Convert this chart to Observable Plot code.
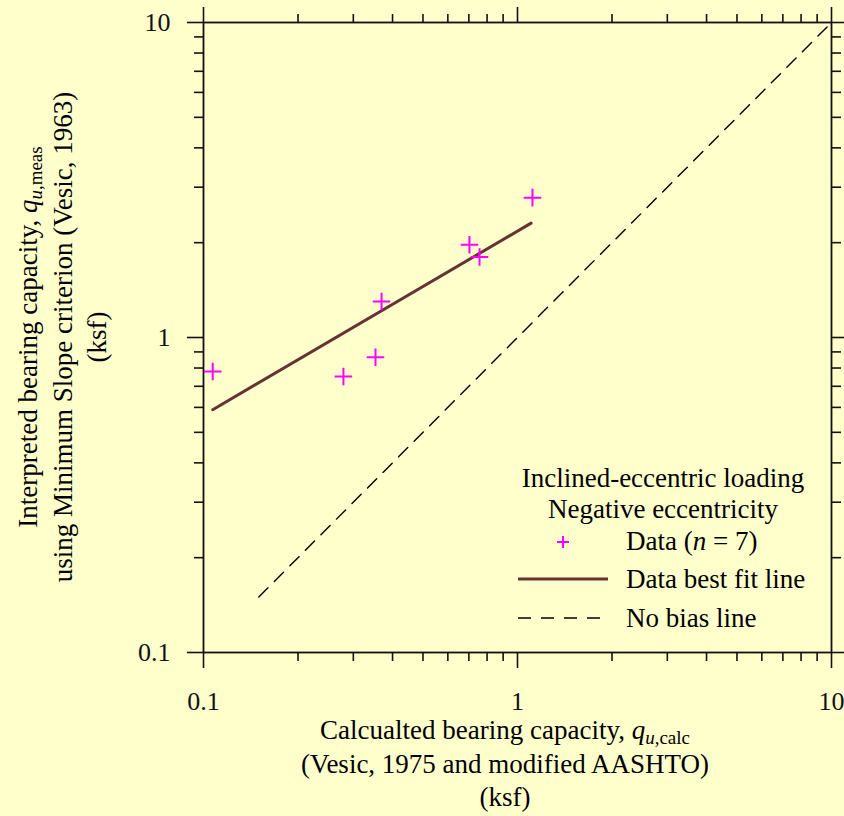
<!DOCTYPE html>
<html>
<head>
<meta charset="utf-8">
<script src="https://cdn.jsdelivr.net/npm/d3@7"></script>
<script src="https://cdn.jsdelivr.net/npm/@observablehq/plot@0.6"></script>
<style>
  html, body { margin: 0; padding: 0; background: #ffffcc; }
  #chart { width: 844px; height: 816px; }
</style>
</head>
<body>
<div id="chart"></div>
<script>
// ---- data ----
const dataX = [0.107, 0.279, 0.353, 0.369, 0.703, 0.757, 1.116];
const dataY = [0.78, 0.752, 0.865, 1.30, 1.97, 1.80, 2.78];
const fitX = [0.107, 1.105];
const fitY = [0.590, 2.307];
const biasX = [0.15, 10];
const biasY = [0.15, 10];
const majorTicks = [0.1, 1, 10];
const majorLabels = ["0.1", "1", "10"];
const minorTicks = [0.2, 0.3, 0.4, 0.5, 0.6, 0.7, 0.8, 0.9, 2, 3, 4, 5, 6, 7, 8, 9];

const points = dataX.map((x, i) => ({x, y: dataY[i]}));
const fit = fitX.map((x, i) => ({x, y: fitY[i]}));
const bias = biasX.map((x, i) => ({x, y: biasY[i]}));
const fmt = d => majorLabels[majorTicks.indexOf(d)] ?? "";
const blank = () => "";

const ink = "#111";
const axisCommon = {color: ink, strokeWidth: 1.6, label: null, fontSize: 26};

const plot = Plot.plot({
  width: 844,
  height: 816,
  marginLeft: 203,
  marginRight: 13,
  marginTop: 22,
  marginBottom: 164,
  style: {background: "#ffffcc", fontFamily: "'Liberation Serif', 'Times New Roman', serif", fontSize: "27px", color: ink},
  x: {type: "log", domain: [0.1, 10]},
  y: {type: "log", domain: [0.1, 10]},
  marks: [
    Plot.axisX({...axisCommon, anchor: "bottom", ticks: majorTicks, tickSize: 16, tickPadding: 23, tickFormat: fmt}),
    Plot.axisX({...axisCommon, anchor: "bottom", ticks: minorTicks, tickSize: 9, tickFormat: blank}),
    Plot.axisX({...axisCommon, anchor: "top", ticks: majorTicks, tickSize: 16, tickFormat: blank}),
    Plot.axisX({...axisCommon, anchor: "top", ticks: minorTicks, tickSize: 9, tickFormat: blank}),
    Plot.axisY({...axisCommon, anchor: "left", ticks: majorTicks, tickSize: 16, tickPadding: 17, tickFormat: fmt}),
    Plot.axisY({...axisCommon, anchor: "left", ticks: minorTicks, tickSize: 9, tickFormat: blank}),
    Plot.axisY({...axisCommon, anchor: "right", ticks: majorTicks, tickSize: 16, tickFormat: blank}),
    Plot.axisY({...axisCommon, anchor: "right", ticks: minorTicks, tickSize: 9, tickFormat: blank}),
    Plot.frame({stroke: ink, strokeWidth: 1.8}),
    Plot.line(bias, {x: "x", y: "y", stroke: "#000", strokeWidth: 1.4, strokeDasharray: "13,9"}),
    Plot.line(fit, {x: "x", y: "y", stroke: "#663333", strokeWidth: 3}),
    Plot.dot(points, {x: "x", y: "y", symbol: "plus", r: 5.7, stroke: "#ff00ff", strokeWidth: 2})
  ]
});
document.getElementById("chart").appendChild(plot);

// ---- titles and legend (text) ----
const svg = d3.select(plot);
const FS = 27, SUB = 19;
function rich(g, parts) {
  parts.forEach(p => {
    const t = g.append("tspan").text(p.t);
    if (p.i) t.attr("font-style", "italic");
    if (p.s) t.attr("font-size", SUB);
    if (p.dy) t.attr("dy", p.dy);
  });
}
const txt = svg.append("g").attr("fill", "#000").attr("font-size", FS)
  .attr("font-family", "'Liberation Serif', 'Times New Roman', serif");

// x axis title
const xt1 = txt.append("text").attr("x", 505).attr("y", 739).attr("text-anchor", "middle");
rich(xt1, [{t: "Calcualted bearing capacity, "}, {t: "q", i: 1}, {t: "u", i: 1, s: 1, dy: 5}, {t: ",calc", s: 1}]);
txt.append("text").attr("x", 505).attr("y", 773).attr("text-anchor", "middle").text("(Vesic, 1975 and modified AASHTO)");
txt.append("text").attr("x", 505).attr("y", 806).attr("text-anchor", "middle").text("(ksf)");

// y axis title
const yg = txt.append("g").attr("transform", "translate(0,337) rotate(-90)");
const yt1 = yg.append("text").attr("x", 0).attr("y", 37).attr("text-anchor", "middle");
rich(yt1, [{t: "Interpreted bearing capacity, "}, {t: "q", i: 1}, {t: "u", i: 1, s: 1, dy: 5}, {t: ",meas", s: 1}]);
yg.append("text").attr("x", 0).attr("y", 72).attr("text-anchor", "middle").text("using Minimum Slope criterion (Vesic, 1963)");
yg.append("text").attr("x", 0).attr("y", 106).attr("text-anchor", "middle").text("(ksf)");

// legend
txt.append("text").attr("x", 663).attr("y", 487).attr("text-anchor", "middle").text("Inclined-eccentric loading");
txt.append("text").attr("x", 663).attr("y", 518).attr("text-anchor", "middle").text("Negative eccentricity");
const l1 = txt.append("text").attr("x", 626).attr("y", 550).attr("text-anchor", "start");
rich(l1, [{t: "Data ("}, {t: "n", i: 1}, {t: " = 7)"}]);
txt.append("text").attr("x", 626).attr("y", 588).attr("text-anchor", "start").text("Data best fit line");
txt.append("text").attr("x", 626).attr("y", 627).attr("text-anchor", "start").text("No bias line");
const lg = svg.append("g");
lg.append("path").attr("d", "M557,542h12M563,536v12").attr("stroke", "#ff00ff").attr("stroke-width", 2).attr("fill", "none");
lg.append("line").attr("x1", 518).attr("x2", 608).attr("y1", 579).attr("y2", 579).attr("stroke", "#663333").attr("stroke-width", 3);
lg.append("line").attr("x1", 518).attr("x2", 608).attr("y1", 618).attr("y2", 618).attr("stroke", "#000").attr("stroke-width", 1.4).attr("stroke-dasharray", "13,10");
</script>
</body>
</html>
